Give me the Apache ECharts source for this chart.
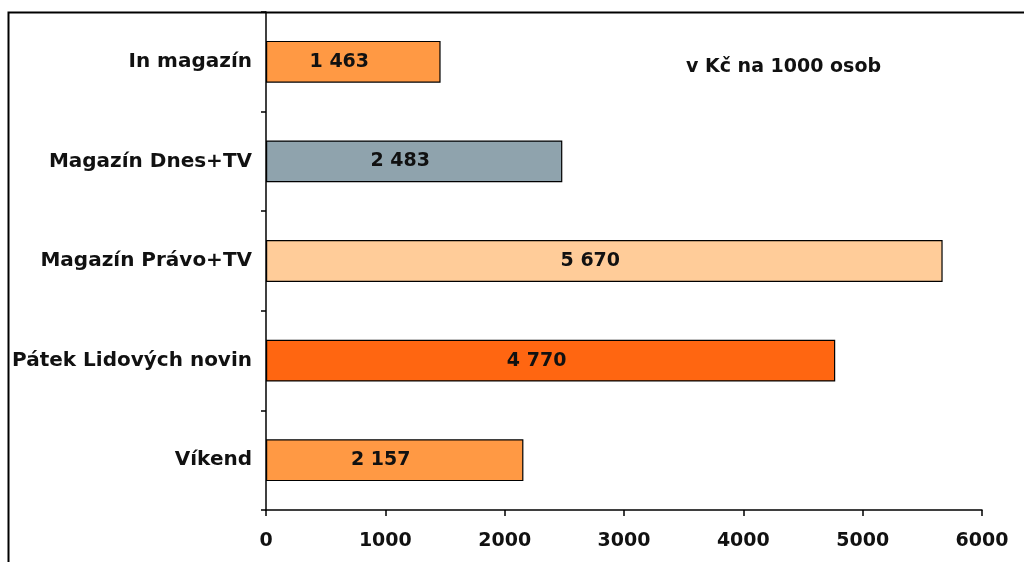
<!DOCTYPE html>
<html>
<head>
<meta charset="utf-8">
<script src="https://cdn.jsdelivr.net/npm/echarts@6/dist/echarts.min.js"></script>
<style>
  html, body { margin: 0; padding: 0; background: #fff; }
  #chart { width: 1024px; height: 562px; }
</style>
</head>
<body>
<div id="chart"></div>
<script>
// magazines, top to bottom
const categories = ['In magazín', 'Magazín Dnes+TV', 'Magazín Právo+TV', 'Pátek Lidových novin', 'Víkend'];
const values = [1463, 2483, 5670, 4770, 2157];
const barColors = ['#FF9944', '#8FA3AD', '#FFCC99', '#FF6611', '#FF9944'];
const unitNote = 'v Kč na 1000 osob';

const font = 'DejaVu Sans';

const chart = echarts.init(document.getElementById('chart'));
chart.setOption({
    animation: false,
    textStyle: { fontFamily: font },
    graphic: [
        {
            type: 'rect',
            shape: { x: 8.5, y: 12.5, width: 1100, height: 700 },
            style: { fill: 'none', stroke: '#000', lineWidth: 2 },
            z: -1
        },
        {
            type: 'text',
            left: 686, top: 58,
            style: { text: unitNote, font: 'bold 19px ' + font, fill: '#111' }
        }
    ],
    grid: { left: 266, top: 12, right: 42, bottom: 52, containLabel: false },
    xAxis: {
        type: 'value',
        min: 0, max: 6000, interval: 1000,
        axisLine: { show: true, lineStyle: { color: '#000', width: 1.5 } },
        axisTick: { show: true, length: 6, lineStyle: { color: '#000', width: 1.5 } },
        splitLine: { show: false },
        axisLabel: {
            color: '#111', fontSize: 19, fontWeight: 'bold', margin: 22, fontFamily: font,
            formatter: v => String(v)
        }
    },
    yAxis: {
        type: 'category',
        inverse: true,
        data: categories,
        axisLine: { lineStyle: { color: '#000', width: 1.5 } },
        axisTick: { show: true, length: 5, lineStyle: { color: '#000', width: 1.5 } },
        axisLabel: { color: '#111', fontSize: 20, fontWeight: 'bold', margin: 14, fontFamily: font }
    },
    series: [{
        type: 'bar',
        data: values.map((v, i) => ({ value: v, itemStyle: { color: barColors[i] } })),
        barCategoryGap: '58%',
        itemStyle: { borderColor: '#000', borderWidth: 1.2 },
        label: {
            show: true,
            position: 'inside',
            offset: [-14, 0],
            color: '#111',
            fontSize: 19,
            fontWeight: 'bold',
            fontFamily: font,
            formatter: p => String(p.value).replace(/\B(?=(\d{3})+(?!\d))/g, ' ')
        }
    }]
});
</script>
</body>
</html>
